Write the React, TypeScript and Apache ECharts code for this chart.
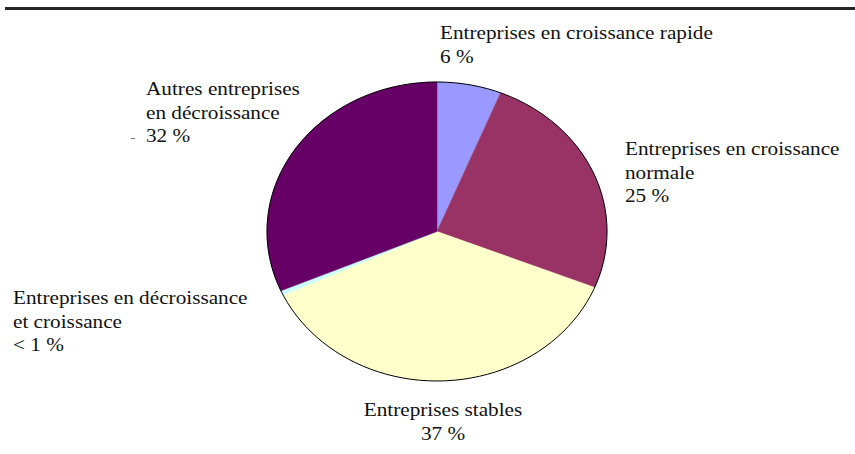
import React, { useEffect, useRef } from "react";
import * as echarts from "echarts";

const categories = [
  "Entreprises en croissance rapide",
  "Entreprises en croissance normale",
  "Entreprises stables",
  "Entreprises en décroissance et croissance",
  "Autres entreprises en décroissance",
];
const values = [6.1, 25.0, 36.9, 0.5, 31.5];
const valueLabels = ["6 %", "25 %", "37 %", "< 1 %", "32 %"];
const labelLines = [
  ["Entreprises en croissance rapide"],
  ["Entreprises en croissance", "normale"],
  ["Entreprises stables"],
  ["Entreprises en décroissance", "et croissance"],
  ["Autres entreprises", "en décroissance"],
];
const colors = ["#9999FF", "#993366", "#FFFFCC", "#CCFFFF", "#660066"];

const CX = 437;
const CY = 231.5;
const RX = 170;
const RY = 149.5;
const FONT = "'Liberation Serif', 'Times New Roman', Times, serif";

export default function App() {
  const ref = useRef<HTMLDivElement>(null);
  useEffect(() => {
    document.body.style.margin = "0";
    const chart = echarts.init(ref.current!, null, { renderer: "svg" });
    const total = values.reduce((a, b) => a + b, 0);
    const cum: number[] = [];
    let acc = 0;
    values.forEach((v) => {
      cum.push(acc);
      acc += v;
    });

    const labelPos: { x: number; y: number; align: string }[] = [
      { x: 440, y: 21, align: "left" },
      { x: 625, y: 137, align: "left" },
      { x: 443, y: 398, align: "center" },
      { x: 13, y: 286, align: "left" },
      { x: 146, y: 77, align: "left" },
    ];

    const textEls = categories.map((c, i) => ({
      type: "text",
      x: labelPos[i].x,
      y: labelPos[i].y,
      scaleX: 1.18,
      silent: true,
      style: {
        text: [...labelLines[i], valueLabels[i]].join("\n"),
        fontFamily: FONT,
        fontSize: 18,
        fill: "#111",
        align: labelPos[i].align,
        verticalAlign: "top",
        lineHeight: 23.5,
      },
    }));

    chart.setOption({
      animation: false,
      backgroundColor: "#ffffff",
      textStyle: { fontFamily: FONT },
      series: [
        {
          type: "custom",
          coordinateSystem: "none",
          data: values.map((v, i) => ({ value: v, name: categories[i] })),
          renderItem: (params: any, api: any) => {
            const i = params.dataIndex;
            const v = api.value(0);
            const start = -Math.PI / 2 + (cum[i] / total) * Math.PI * 2;
            const end = start + (v / total) * Math.PI * 2;
            return {
              type: "sector",
              x: CX,
              y: CY,
              scaleY: RY / RX,
              shape: { cx: 0, cy: 0, r0: 0, r: RX, startAngle: start, endAngle: end, clockwise: true },
              style: { fill: colors[i], stroke: colors[i], lineWidth: 0.5 },
            };
          },
        },
      ],
      graphic: [
        {
          type: "rect",
          shape: { x: 5, y: 7, width: 850, height: 3 },
          style: { fill: "#262626" },
          silent: true,
        },
        {
          type: "ellipse",
          shape: { cx: CX, cy: CY, rx: RX, ry: RY },
          style: { fill: "none", stroke: "#000", lineWidth: 1 },
          silent: true,
          z: 100,
        },
        {
          type: "line",
          shape: { x1: 131, y1: 138.5, x2: 135, y2: 138.5 },
          style: { stroke: "#777", lineWidth: 1 },
          silent: true,
        },
        ...textEls,
      ],
    });
    return () => chart.dispose();
  }, []);
  return <div ref={ref} style={{ position: "fixed", left: 0, top: 0, width: 855, height: 454 }} />;
}
